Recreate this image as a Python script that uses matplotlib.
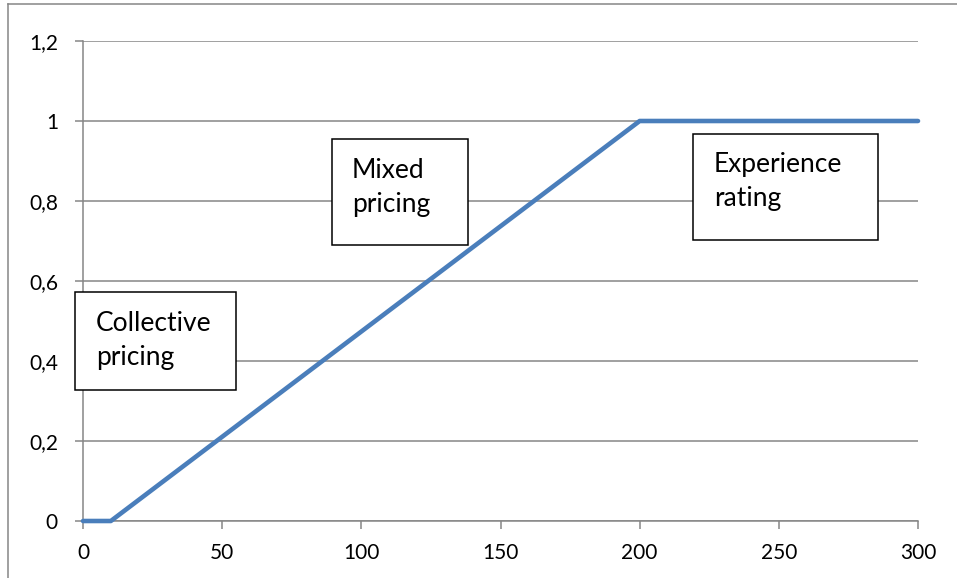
import matplotlib.pyplot as plt
from matplotlib.patches import Rectangle
from matplotlib.lines import Line2D

# Datos de la curva (ponderación de la experiencia propia)
x_vals = [0, 10, 200, 300]
y_vals = [0, 0, 1, 1]

x_ticks = [0, 50, 100, 150, 200, 250, 300]
y_ticks = [0, 0.2, 0.4, 0.6, 0.8, 1.0, 1.2]
y_labels = ['0', '0,2', '0,4', '0,6', '0,8', '1', '1,2']

# Cuadros de texto: (texto, x0, y0, x1, y1, x_texto, y_base última línea)
boxes = [
    ('Collective\npricing', -2.9, 0.3275, 55.0, 0.5725, 4.7, 0.39),
    ('Mixed\npricing', 89.4, 0.69, 138.3, 0.955, 96.6, 0.7725),
    ('Experience\nrating', 219.2, 0.7025, 285.6, 0.9675, 226.7, 0.7875),
]

gris = '#868686'
azul = '#4A7EBB'

plt.rcParams['font.family'] = ['Lato', 'DejaVu Sans']

fig = plt.figure(figsize=(9.57, 5.78), dpi=100)
ax = fig.add_axes([83 / 957, 57 / 578, 835 / 957, 480 / 578])

ax.plot(x_vals, y_vals, color=azul, lw=3.3, solid_capstyle='round', clip_on=False, zorder=3)

ax.set_xlim(0, 300)
ax.set_ylim(0, 1.2)
ax.set_xticks(x_ticks)
ax.set_yticks(y_ticks)
ax.set_yticklabels(y_labels)
ax.yaxis.grid(True, color=gris, lw=1.1)
ax.set_axisbelow(True)

for s in ['top', 'right']:
    ax.spines[s].set_visible(False)
for s in ['left', 'bottom']:
    ax.spines[s].set_color(gris)
    ax.spines[s].set_linewidth(1.1)

ax.tick_params(axis='both', direction='out', length=6, width=1.1, color=gris,
               labelsize=15, labelcolor='black')
ax.tick_params(axis='y', pad=12)
ax.tick_params(axis='x', pad=10)

for texto, x0, y0, x1, y1, xt, yt in boxes:
    ax.add_patch(Rectangle((x0, y0), x1 - x0, y1 - y0, facecolor='white',
                           edgecolor='black', lw=1.1, clip_on=False, zorder=4))
    ax.text(xt, yt, texto, fontsize=19, ha='left', va='baseline',
            linespacing=1.45, zorder=5)

# Marco exterior del gráfico
fig.add_artist(Line2D([8 / 957, 8 / 957], [0, 1 - 4 / 578], color=gris, lw=1.1))
fig.add_artist(Line2D([8 / 957, 1], [1 - 4 / 578, 1 - 4 / 578], color=gris, lw=1.1))

plt.savefig('out.png', dpi=100)
